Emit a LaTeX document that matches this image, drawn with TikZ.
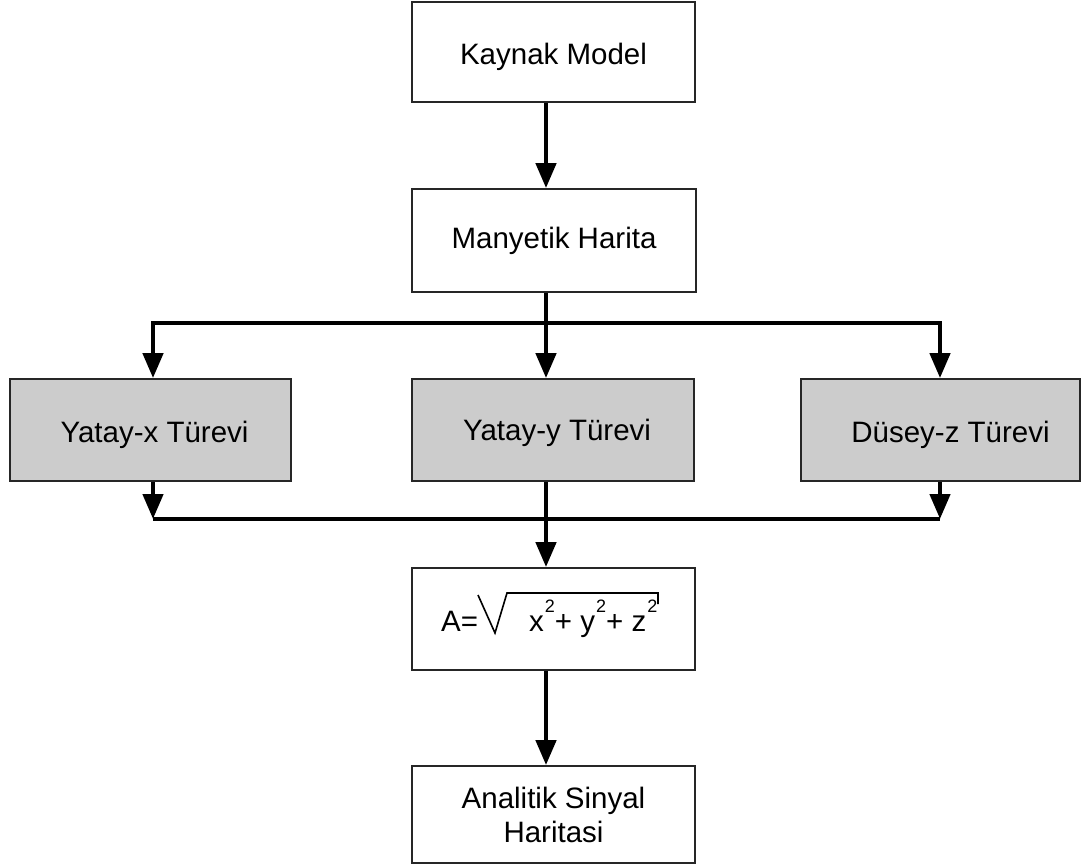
\documentclass[tikz,border=0pt]{standalone}
\usepackage{fontspec}
\setmainfont{Liberation Sans}
\usetikzlibrary{arrows.meta,calc}
\newcommand{\lowr}[2]{\raisebox{-#1}[\height][\depth]{#2}}
\newcommand{\sqtwo}{\hspace{1pt}\raisebox{19pt}{\fontsize{18}{18}\selectfont 2}}
\begin{document}
\begin{tikzpicture}[x=1pt,y=-1pt,
  box/.style={draw=black!85,line width=1.8pt,rectangle,inner sep=0pt,align=center,
    font=\fontsize{29.5}{34}\selectfont},
  graybox/.style={box,fill=black!20},
  conn/.style={line width=4.5pt,black},
  arr/.style={conn,-{Triangle[length=25pt,width=20pt]}}]
\useasboundingbox (0,0) rectangle (1088,865);
\node[box,minimum width=283pt,minimum height=100pt] (kay) at (553.5,52) {\lowr{5pt}{Kaynak Model}};
\node[box,minimum width=284pt,minimum height=103pt] (man) at (554,240.5) {Manyetik Harita};
\node[graybox,minimum width=281pt,minimum height=102pt] (yx) at (150.5,430) {\lowr{5pt}{\hspace*{8pt}Yatay-x Türevi}};
\node[graybox,minimum width=282pt,minimum height=102pt] (yy) at (553,430) {\lowr{3pt}{\hspace*{8pt}Yatay-y Türevi}};
\node[graybox,minimum width=279pt,minimum height=102pt] (dz) at (940.5,430) {\lowr{5pt}{\hspace*{20pt}Düsey-z Türevi}};
\node[box,minimum width=283pt,minimum height=102pt] (form) at (553.5,619) {};
\node[box,minimum width=283pt,minimum height=97pt] (ana) at (553.5,814.5) {Analitik Sinyal\\Haritasi};
% formula
\node[anchor=base west,inner sep=0pt,font=\fontsize{29.5}{35}\selectfont] (fa) at (441,631) {A=};
\node[anchor=base west,inner sep=0pt,font=\fontsize{29.5}{35}\selectfont] (fb) at (529,631) {x\sqtwo+ y\sqtwo+ z\sqtwo};
\draw[line width=1.6pt,line join=miter] (478,595) -- (495,633) -- (507,593) -- (658,593) -- (658,604);
% coordinates for connector columns
\coordinate (cx) at (546,0);
\coordinate (lx) at (153,0);
\coordinate (rx) at (940,0);
\coordinate (bus1) at (546,323);
\coordinate (bus2) at (546,519);
% connectors
\draw[arr] (kay.south -| cx) -- (man.north -| cx);
\draw[arr] (man.south -| cx) -- (yy.north -| cx);
\draw[arr] (bus1) -| (yx.north -| lx);
\draw[arr] (bus1) -| (dz.north -| rx);
\draw[arr] (yx.south -| lx) -- (bus2 -| lx);
\draw[arr] (dz.south -| rx) -- (bus2 -| rx);
\draw[conn] (bus2 -| lx) -- (bus2 -| rx);
\draw[arr] (yy.south -| cx) -- (form.north -| cx);
\draw[arr] (form.south -| cx) -- (ana.north -| cx);
\end{tikzpicture}
\end{document}
